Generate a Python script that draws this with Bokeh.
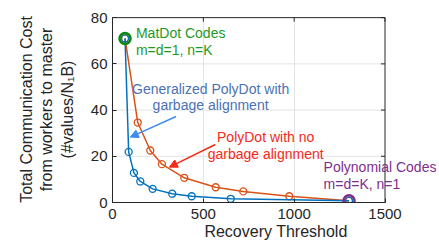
from bokeh.plotting import figure
from bokeh.embed import file_html
from bokeh.resources import INLINE
from bokeh.models import Label, Arrow, NormalHead, Range1d, FixedTicker

# ---- data ----
poly_x = [69, 139, 208, 272, 395, 568, 720, 973, 1302]
poly_y = [71, 34.6, 22.5, 16.6, 10.7, 6.6, 4.8, 2.7, 0.8]
gen_x = [69, 89, 118, 153, 221, 329, 436, 651, 1302]
gen_y = [71, 21.9, 12.8, 9.1, 5.9, 3.8, 2.7, 1.6, 0.8]
matdot_pt = (69, 71)
polynomial_pt = (1302, 0.8)
x_ticks = [0, 500, 1000, 1500]
y_ticks = [0, 20, 40, 60, 80]

BLUE = "#0072BD"
ORANGE = "#D95319"
FONT = "Liberation Sans"
AX = "#262626"
GRID = "#e3e3e3"

# layout: frame runs to the right canvas edge so the annotation texts are not clipped;
# the visible axes box is bounded to the tick range.
W, H = 439, 251
LEFT, TOP, BOTTOM = 112, 16, 49
PX_PER_X = 272.5 / (x_ticks[-1] - x_ticks[0])
X_END = (W - LEFT) / PX_PER_X
Y_END = y_ticks[-1] + 0.5

p = figure(width=W, height=H, output_backend="svg", toolbar_location=None,
           x_range=Range1d(x_ticks[0], X_END), y_range=Range1d(y_ticks[0], Y_END))
p.min_border_left = LEFT
p.min_border_right = 0
p.min_border_top = TOP
p.min_border_bottom = BOTTOM
p.background_fill_color = "white"
p.border_fill_color = "white"
p.outline_line_color = None

for ax in (p.xaxis[0], p.yaxis[0]):
    ax.major_label_text_font = FONT
    ax.major_label_text_font_size = "15px"
    ax.major_label_text_color = AX
    ax.axis_label_text_font = FONT
    ax.axis_label_text_font_size = "16px"
    ax.axis_label_text_font_style = "normal"
    ax.axis_label_text_color = AX
    ax.axis_line_color = AX
    ax.major_tick_line_color = AX
    ax.major_tick_in = 4
    ax.major_tick_out = 0
    ax.minor_tick_line_color = None

p.xaxis[0].ticker = FixedTicker(ticks=x_ticks)
p.xaxis[0].bounds = (x_ticks[0], x_ticks[-1])
p.yaxis[0].ticker = FixedTicker(ticks=y_ticks)
p.yaxis[0].bounds = (y_ticks[0], y_ticks[-1])
p.xaxis[0].axis_label = "Recovery Threshold"
p.xaxis[0].major_label_standoff = 6
p.xaxis[0].axis_label_standoff = 1
p.yaxis[0].major_label_standoff = 5
p.yaxis[0].axis_label = "Total Communication Cost\nfrom workers to master\n(#values/N\u2081B)"
p.yaxis[0].axis_label_standoff = 12

# grid
p.xgrid.ticker = FixedTicker(ticks=x_ticks[1:-1])
p.xgrid.grid_line_color = GRID
p.ygrid.visible = False
inner_y = y_ticks[1:-1]
p.segment(x0=[x_ticks[0]] * len(inner_y), y0=inner_y,
          x1=[x_ticks[-1]] * len(inner_y), y1=inner_y,
          line_color=GRID, line_width=1)

# series
p.line(poly_x, poly_y, line_color=ORANGE, line_width=1.5)
p.scatter(poly_x, poly_y, marker="circle", size=7, fill_color=None,
          line_color=ORANGE, line_width=1.3)
p.line(gen_x, gen_y, line_color=BLUE, line_width=1.5)
p.scatter(gen_x, gen_y, marker="circle", size=7, fill_color=None,
          line_color=BLUE, line_width=1.3)

# highlighted endpoints
p.scatter([matdot_pt[0]], [matdot_pt[1]], marker="circle", size=11, fill_color=None,
          line_color="#0a8a0a", line_width=2.5)
p.scatter([polynomial_pt[0]], [polynomial_pt[1]], marker="circle", size=11, fill_color=None,
          line_color="#7E2F8E", line_width=2.5)

# box: top and right edges with inward ticks
x0, x1 = x_ticks[0], x_ticks[-1]
y0, y1 = y_ticks[0], y_ticks[-1]
p.segment(x0=[x0, x1], y0=[y1, y0], x1=[x1, x1], y1=[y1, y1], line_color=AX, line_width=1)
tick_dx = 4 / PX_PER_X
tick_dy = 4 * (Y_END - y0) / (H - TOP - BOTTOM)
p.segment(x0=[x1] * len(y_ticks), y0=y_ticks, x1=[x1 - tick_dx] * len(y_ticks), y1=y_ticks,
          line_color=AX, line_width=1)
p.segment(x0=x_ticks, y0=[y1] * len(x_ticks), x1=x_ticks, y1=[y1 - tick_dy] * len(x_ticks),
          line_color=AX, line_width=1)

def lab(x, y, text, color, align="left"):
    p.add_layout(Label(x=x, y=y, text=text, text_color=color, text_font=FONT,
                       text_font_size="14px", text_align=align,
                       text_baseline="middle"))

GREEN = "#1f9a1f"
lab(129, 73.2, "MatDot Codes", GREEN)
lab(129, 65.8, "m=d=1, n=K", GREEN)

GB = "#4a72b5"
lab(540, 49.2, "Generalized PolyDot with", GB, "center")
lab(540, 42.3, "garbage alignment", GB, "center")

RED = "#f52a1a"
lab(843, 28.3, "PolyDot with no", RED, "center")
lab(843, 21.1, "garbage alignment", RED, "center")

PUR = "#7E2F8E"
lab(1162, 15.3, "Polynomial Codes", PUR)
lab(1162, 8.1, " m=d=K, n=1", PUR)

# arrows
p.add_layout(Arrow(end=NormalHead(size=8, fill_color="#3f8cf0", line_color="#3f8cf0"),
                   x_start=350, y_start=37.2, x_end=98, y_end=28.3,
                   line_color="#3f8cf0", line_width=1.5))
p.add_layout(Arrow(end=NormalHead(size=8, fill_color="#f52a1a", line_color="#f52a1a"),
                   x_start=566, y_start=25.1, x_end=313, y_end=15.3,
                   line_color="#f52a1a", line_width=1.5))

open("out.html", "w").write(file_html(p, INLINE))
